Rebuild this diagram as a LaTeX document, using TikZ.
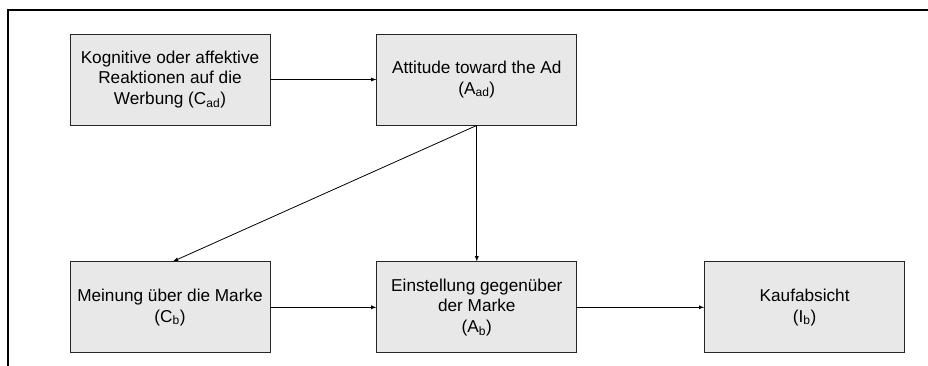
\documentclass[tikz,border=0pt]{standalone}
\usepackage{fontspec}
\setmainfont{Liberation Sans}
\usetikzlibrary{positioning,arrows}

\begin{document}
\begin{tikzpicture}
  [
    x=1pt, y=-1pt,
    construct/.style={draw=black!85, fill=black!9, line width=0.8pt, rectangle, minimum width=200pt, minimum height=91pt, inner sep=2pt, align=center, font=\fontsize{17.2}{20.5}\selectfont},
    effect/.style={->,>=latex,line width=0.8pt},
  ]
  \useasboundingbox (0,0) rectangle (928,365);
  \draw [line width=2.2pt] (8,372) -- (8,10) -- (940,10);

  \node (cad) [construct] at (170,79.5) {Kognitive oder affektive\\Reaktionen auf die\\Werbung (C\textsubscript{ad})};
  \node (aad) [construct, right=106pt of cad] {Attitude toward the Ad\\(A\textsubscript{ad})};
  \node (cb) [construct, below=136pt of cad] {Meinung über die Marke\\(C\textsubscript{b})};
  \node (ab) [construct, right=106pt of cb] {Einstellung gegenüber\\der Marke\\(A\textsubscript{b})};
  \node (ib) [construct, right=127pt of ab] {Kaufabsicht\\(I\textsubscript{b})};

  \draw [effect] (cad) -- (aad);
  \draw [effect] (aad.south) -- (ab.north);
  \draw [effect] (aad.south) -- ([xshift=3pt]cb.north);
  \draw [effect] (cb) -- (ab);
  \draw [effect] (ab) -- (ib);
\end{tikzpicture}
\end{document}
